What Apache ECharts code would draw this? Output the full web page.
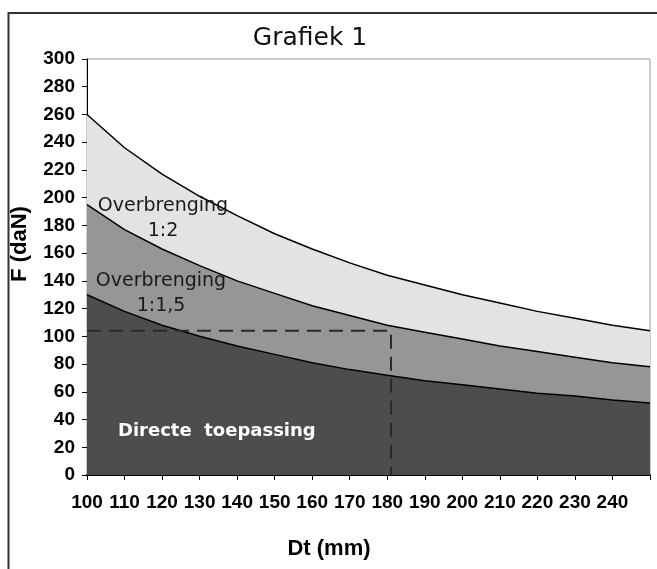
<!DOCTYPE html>
<html>
<head>
<meta charset="utf-8">
<script src="https://cdn.jsdelivr.net/npm/echarts@6/dist/echarts.min.js"></script>
<style>
html,body{margin:0;padding:0;background:#fff;}
#chart{width:657px;height:569px;}
</style>
</head>
<body>
<div id="chart"></div>
<script>
// Dt (mm)
var dt = [100,110,120,130,140,150,160,170,180,190,200,210,220,230,240,250];
// F (daN) - Overbrenging 1:2
var ratio12 = [260,236,217,201,187,174,163,153,144,137,130,124,118,113,108,104];
// F (daN) - Overbrenging 1:1,5
var ratio115 = [195,177,163,151,140,131,122,115,108,103,98,93,89,85,81,78];
// F (daN) - Directe toepassing
var direct = [130,118,108,100,93,87,81,76,72,68,65,62,59,57,54,52];
// dashed reading line
var readX = [100,181,181];
var readY = [104,104,0];
var yTicks = [0,300,20];
var xTicks = [100,250,10];

function pairs(xs, ys){ return xs.map(function(x,i){ return [x, ys[i]]; }); }

var chart = echarts.init(document.getElementById('chart'));
var fontLbl = 'Liberation Sans';
chart.setOption({
  animation:false,
  backgroundColor:'#fff',
  grid:{left:87,right:7,top:59,bottom:94,show:true,borderColor:'#999',borderWidth:1,backgroundColor:'transparent'},
  xAxis:{type:'value',min:xTicks[0],max:xTicks[1],interval:xTicks[2],
    axisLine:{show:true,onZero:false,lineStyle:{color:'#000',width:2}},
    axisTick:{show:true,length:5,inside:false,lineStyle:{color:'#000',width:1}},
    splitLine:{show:false},
    axisLabel:{margin:18,fontFamily:fontLbl,fontWeight:'bold',fontSize:19,color:'#000',
      formatter:function(v){return v===250?'':String(v);}}
  },
  yAxis:{type:'value',min:yTicks[0],max:yTicks[1],interval:yTicks[2],
    axisLine:{show:true,lineStyle:{color:'#000',width:1}},
    axisTick:{show:true,length:5,lineStyle:{color:'#000',width:1}},
    splitLine:{show:false},
    axisLabel:{margin:12,fontFamily:fontLbl,fontWeight:'bold',fontSize:19,color:'#000'}
  },
  series:[
    {type:'line',data:pairs(dt,ratio12),symbol:'none',smooth:false,z:2,
      lineStyle:{color:'#000',width:1.5},areaStyle:{color:'#e3e3e3',opacity:1,origin:'start'}},
    {type:'line',data:pairs(dt,ratio115),symbol:'none',smooth:false,z:3,
      lineStyle:{color:'#000',width:1.5},areaStyle:{color:'#969696',opacity:1,origin:'start'}},
    {type:'line',data:pairs(dt,direct),symbol:'none',smooth:false,z:4,
      lineStyle:{color:'#000',width:1.5},areaStyle:{color:'#4d4d4d',opacity:1,origin:'start'}},
    {type:'line',data:pairs(readX,readY),symbol:'none',z:5,
      lineStyle:{color:'#2a2a2a',width:2,type:[14,8]}}
  ],
  graphic:[
    {type:'rect',shape:{x:8.5,y:13,width:700,height:600},style:{fill:'none',stroke:'#333',lineWidth:2},z:100,silent:true},
    {type:'text',x:310,y:38,style:{text:'Grafiek 1',fontFamily:'DejaVu Sans',fontSize:25,fill:'#111',align:'center',verticalAlign:'middle'},z:100},
    {type:'text',x:163,y:219,style:{text:'Overbrenging\n1:2',fontFamily:'DejaVu Sans',fontSize:19,lineHeight:25,fill:'#1a1a1a',align:'center',verticalAlign:'middle'},z:100},
    {type:'text',x:161,y:294,style:{text:'Overbrenging\n1:1,5',fontFamily:'DejaVu Sans',fontSize:19,lineHeight:25,fill:'#1a1a1a',align:'center',verticalAlign:'middle'},z:100},
    {type:'text',x:118,y:431,style:{text:'Directe  toepassing',fontFamily:'DejaVu Sans',fontWeight:'bold',fontSize:18,fill:'#fff',align:'left',verticalAlign:'middle'},z:100},
    {type:'text',x:20,y:244,rotation:Math.PI/2,style:{text:'F (daN)',fontFamily:fontLbl,fontWeight:'bold',fontSize:22,fill:'#000',align:'center',verticalAlign:'middle'},z:100},
    {type:'text',x:329,y:549,style:{text:'Dt (mm)',fontFamily:fontLbl,fontWeight:'bold',fontSize:22,fill:'#000',align:'center',verticalAlign:'middle'},z:100}
  ]
});
</script>
</body>
</html>
